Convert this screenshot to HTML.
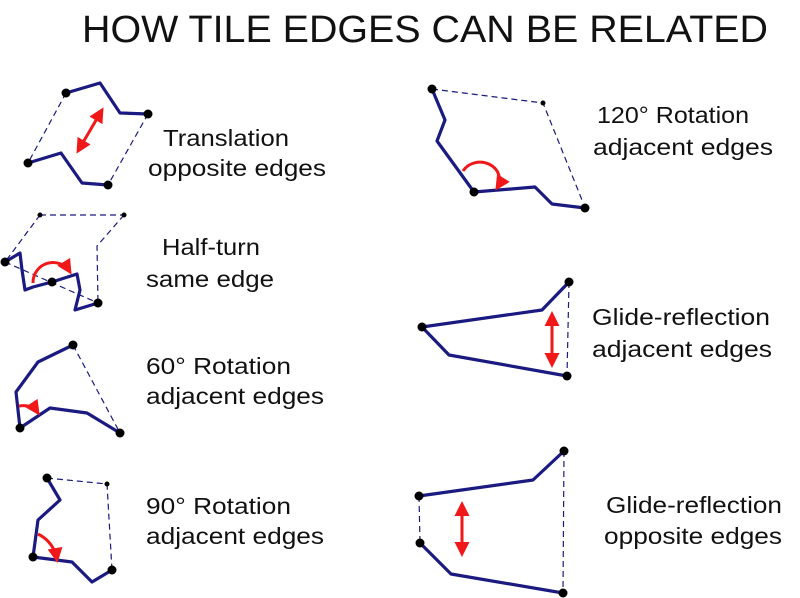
<!DOCTYPE html>
<html><head><meta charset="utf-8"><style>
html,body{margin:0;padding:0;background:#fff;}
svg{display:block;}
text{font-family:"Liberation Sans",Arial,sans-serif;fill:#111;}
.s{fill:none;stroke:#1a1a80;stroke-width:3.2;stroke-linejoin:round;stroke-linecap:round;}
.d{fill:none;stroke:#1a1a80;stroke-width:1.2;stroke-dasharray:6,4;}
.r{fill:none;stroke:#f01818;stroke-width:3;}
.l{font-size:23px;}
</style></head><body>
<svg width="800" height="598" viewBox="0 0 800 598" xmlns="http://www.w3.org/2000/svg">
<defs>
<marker id="ah" viewBox="0 0 10 10" refX="8" refY="5" markerWidth="5" markerHeight="5" orient="auto-start-reverse"><path d="M0,0 L10,5 L0,10 z" fill="#f01818"/></marker>
</defs>
<text x="82" y="42" font-size="38" textLength="686" lengthAdjust="spacingAndGlyphs">HOW TILE EDGES CAN BE RELATED</text>

<path class="d" d="M66,93 L28,163 M148,114 L108,185"/>
<path class="s" d="M66,93 L100,83 L120,113 L148,114"/>
<path class="s" d="M28,163 L61,153 L82,183 L108,185"/>
<line class="r" x1="78" y1="151" x2="102" y2="110" marker-start="url(#ah)" marker-end="url(#ah)"/>
<g fill="#000"><circle cx="66" cy="93" r="4.5"/><circle cx="148" cy="114" r="4.5"/><circle cx="28" cy="163" r="4.5"/><circle cx="108" cy="185" r="4.5"/></g>
<text class="l" x="163" y="146" textLength="126" lengthAdjust="spacingAndGlyphs">Translation</text>
<text class="l" x="148" y="176" textLength="178" lengthAdjust="spacingAndGlyphs">opposite edges</text>

<path class="d" d="M40,215 L124,215 M40,215 L5,262 M124,215 L97,246 L98,303 M5,262 L98,303"/>
<path class="s" d="M5,262 L20,253 L22,270 L25,290 L33,287 L52,282 L77,274 L80,290 L75,310 L98,303"/>
<path class="r" d="M33,283 A20,20 0 0 1 70,272" marker-end="url(#ah)"/>
<g fill="#000"><circle cx="40" cy="215" r="2.5"/><circle cx="124" cy="215" r="2.5"/><circle cx="5" cy="262" r="4.5"/><circle cx="52" cy="282" r="4.5"/><circle cx="98" cy="303" r="4.5"/></g>
<text class="l" x="162" y="255" textLength="98" lengthAdjust="spacingAndGlyphs">Half-turn</text>
<text class="l" x="146" y="287" textLength="128" lengthAdjust="spacingAndGlyphs">same edge</text>

<path class="d" d="M73,345 L120,433"/>
<path class="s" d="M73,345 L38,362 L16,392 L20,428 L50,408 L87,413 L120,433"/>
<path class="r" d="M19,406 Q32,404 38,413" marker-end="url(#ah)"/>
<g fill="#000"><circle cx="73" cy="345" r="4.5"/><circle cx="20" cy="428" r="4.5"/><circle cx="120" cy="433" r="4.5"/></g>
<text class="l" x="146" y="374" textLength="145" lengthAdjust="spacingAndGlyphs">60° Rotation</text>
<text class="l" x="146" y="404" textLength="178" lengthAdjust="spacingAndGlyphs">adjacent edges</text>

<path class="d" d="M47,478 L107,484 L112,570"/>
<path class="s" d="M47,478 L60,500 L38,520 L33,557 L72,562 L92,582 L112,570"/>
<path class="r" d="M38,534 Q54,542 57,560" marker-end="url(#ah)"/>
<g fill="#000"><circle cx="47" cy="478" r="4.5"/><circle cx="107" cy="484" r="2.5"/><circle cx="33" cy="557" r="4.5"/><circle cx="112" cy="570" r="4.5"/></g>
<text class="l" x="146" y="514" textLength="145" lengthAdjust="spacingAndGlyphs">90° Rotation</text>
<text class="l" x="146" y="544" textLength="178" lengthAdjust="spacingAndGlyphs">adjacent edges</text>

<path class="d" d="M432,89 L543,103 L582,200"/>
<path class="s" d="M432,89 L445,120 L437,141 L474,192 L535,187 L552,204 L585,208"/>
<path class="r" d="M463,171 A18,16 0 0 1 497,188" marker-end="url(#ah)"/>
<g fill="#000"><circle cx="432" cy="89" r="4.5"/><circle cx="543" cy="103" r="2.5"/><circle cx="474" cy="192" r="4.5"/><circle cx="585" cy="208" r="4.5"/></g>
<text class="l" x="597" y="123" textLength="152" lengthAdjust="spacingAndGlyphs">120° Rotation</text>
<text class="l" x="593" y="155" textLength="180" lengthAdjust="spacingAndGlyphs">adjacent edges</text>

<path class="d" d="M569,282 L567,376"/>
<path class="s" d="M569,282 L542,310 L422,327 L449,355 L567,376"/>
<line class="r" x1="552" y1="314" x2="552" y2="365" marker-start="url(#ah)" marker-end="url(#ah)"/>
<g fill="#000"><circle cx="569" cy="282" r="4.5"/><circle cx="422" cy="327" r="4.5"/><circle cx="567" cy="376" r="4.5"/></g>
<text class="l" x="592" y="325" textLength="178" lengthAdjust="spacingAndGlyphs">Glide-reflection</text>
<text class="l" x="592" y="357" textLength="180" lengthAdjust="spacingAndGlyphs">adjacent edges</text>

<path class="d" d="M419,496 L420,543 M564,451 L563,593"/>
<path class="s" d="M564,451 L533,480 L419,496"/>
<path class="s" d="M420,543 L451,574 L563,593"/>
<line class="r" x1="462" y1="504" x2="462" y2="554" marker-start="url(#ah)" marker-end="url(#ah)"/>
<g fill="#000"><circle cx="564" cy="451" r="4.5"/><circle cx="419" cy="496" r="4.5"/><circle cx="420" cy="543" r="4.5"/><circle cx="563" cy="593" r="4.5"/></g>
<text class="l" x="606" y="513" textLength="176" lengthAdjust="spacingAndGlyphs">Glide-reflection</text>
<text class="l" x="604" y="544" textLength="178" lengthAdjust="spacingAndGlyphs">opposite edges</text>
</svg>
</body></html>
